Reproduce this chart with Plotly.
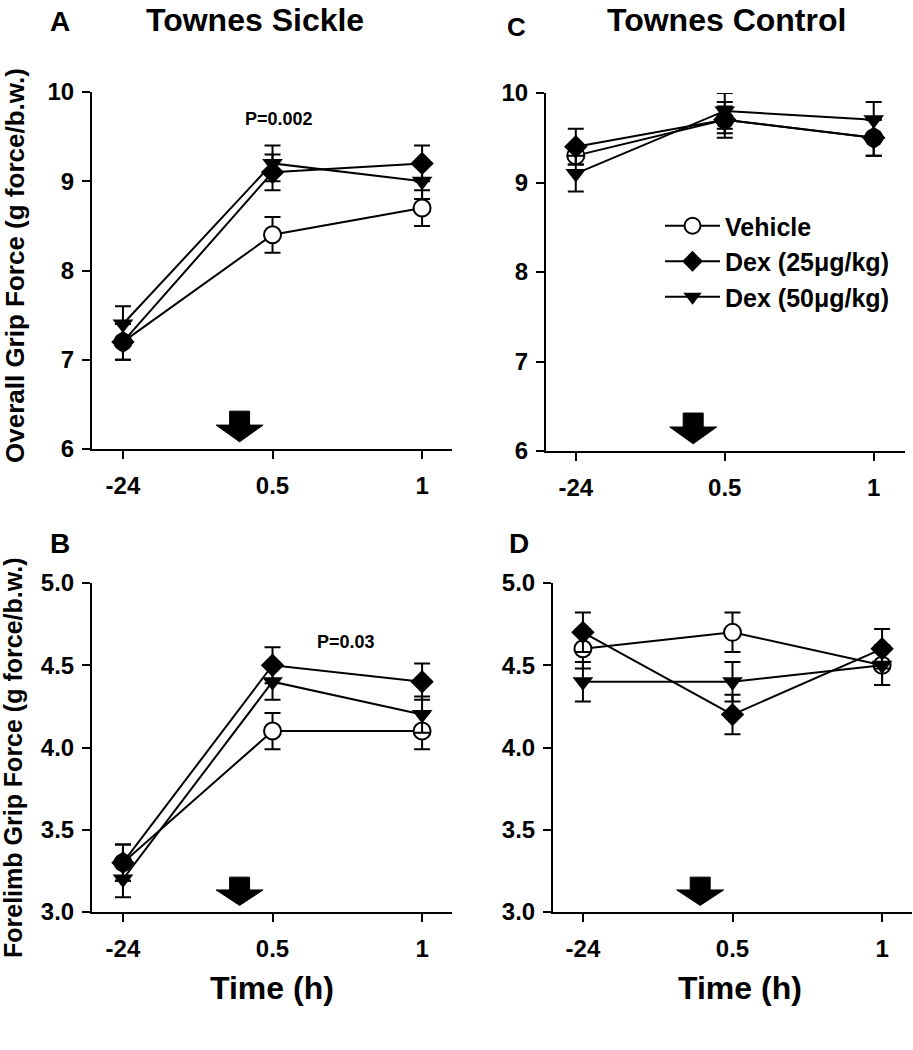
import plotly.graph_objects as go

W, H = 913, 1050

times = ["-24", "0.5", "1"]
series_names = ["Vehicle", "Dex (25\u03bcg/kg)", "Dex (50\u03bcg/kg)"]

# Panel A: Townes Sickle, overall grip force
A_vehicle = [7.2, 8.4, 8.7]
A_vehicle_err = [0.2, 0.2, 0.2]
A_dex25 = [7.2, 9.1, 9.2]
A_dex25_err = [0.2, 0.2, 0.2]
A_dex50 = [7.4, 9.2, 9.0]
A_dex50_err = [0.2, 0.2, 0.2]

# Panel C: Townes Control, overall grip force
C_vehicle = [9.3, 9.7, 9.5]
C_vehicle_err = [0.1, 0.15, 0.2]
C_dex25 = [9.4, 9.7, 9.5]
C_dex25_err = [0.2, 0.2, 0.2]
C_dex50 = [9.1, 9.8, 9.7]
C_dex50_err = [0.2, 0.2, 0.2]

# Panel B: Townes Sickle, forelimb grip force
B_vehicle = [3.3, 4.1, 4.1]
B_vehicle_err = [0.11, 0.11, 0.11]
B_dex25 = [3.3, 4.5, 4.4]
B_dex25_err = [0.11, 0.11, 0.11]
B_dex50 = [3.2, 4.4, 4.2]
B_dex50_err = [0.11, 0.11, 0.11]

# Panel D: Townes Control, forelimb grip force
D_vehicle = [4.6, 4.7, 4.5]
D_vehicle_err = [0.12, 0.12, 0.12]
D_dex25 = [4.7, 4.2, 4.6]
D_dex25_err = [0.12, 0.12, 0.12]
D_dex50 = [4.4, 4.4, 4.5]
D_dex50_err = [0.12, 0.12, 0.12]

FONT = "Liberation Sans, Arial, sans-serif"


def px_x(p):
    return p / W


def px_y(p):
    return 1 - p / H


fig = go.Figure()

panels = [
    ("", (A_vehicle, A_vehicle_err, A_dex25, A_dex25_err, A_dex50, A_dex50_err), False),
    ("2", (C_vehicle, C_vehicle_err, C_dex25, C_dex25_err, C_dex50, C_dex50_err), True),
    ("3", (B_vehicle, B_vehicle_err, B_dex25, B_dex25_err, B_dex50, B_dex50_err), False),
    ("4", (D_vehicle, D_vehicle_err, D_dex25, D_dex25_err, D_dex50, D_dex50_err), False),
]


def err(e):
    return dict(type="data", array=e, visible=True, color="black", thickness=2, width=8)


for suf, (veh, veh_e, d25, d25_e, d50, d50_e), sl in panels:
    xa = "x" + suf
    ya = "y" + suf
    common = dict(x=times, mode="lines+markers", xaxis=xa, yaxis=ya,
                  line=dict(color="black", width=2))
    fig.add_trace(go.Scatter(y=veh, error_y=err(veh_e), name=series_names[0],
                             marker=dict(symbol="circle", size=17, color="white",
                                         line=dict(color="black", width=2)),
                             showlegend=sl, legendrank=1, **common))
    fig.add_trace(go.Scatter(y=d50, error_y=err(d50_e), name=series_names[2],
                             marker=dict(symbol="triangle-down", size=18, color="black",
                                         line=dict(color="black", width=0)),
                             showlegend=sl, legendrank=3, **common))
    fig.add_trace(go.Scatter(y=d25, error_y=err(d25_e), name=series_names[1],
                             marker=dict(symbol="diamond", size=18, color="black",
                                         line=dict(color="black", width=0)),
                             showlegend=sl, legendrank=2, **common))

axis_common = dict(showline=True, linecolor="black", linewidth=2, ticks="outside",
                   ticklen=8, tickwidth=2, tickcolor="black", showgrid=False,
                   zeroline=False, automargin=False,
                   tickfont=dict(size=24, family=FONT, color="black", weight="bold"))

dom = {
    "": ([92, 452], [449, 92], [-0.207, 2.2], [6, 10], [6, 7, 8, 9, 10]),
    "2": ([546, 905], [451, 93], [-0.2, 2.21], [6, 10], [6, 7, 8, 9, 10]),
    "3": ([92, 452], [912, 583], [-0.207, 2.2], [3, 5], [3.0, 3.5, 4.0, 4.5, 5.0]),
    "4": ([553, 912], [912, 583], [-0.2, 2.2], [3, 5], [3.0, 3.5, 4.0, 4.5, 5.0]),
}

layout_axes = {}
for suf, (xd, yd, xr, yr, tv) in dom.items():
    xk = "xaxis" + suf
    yk = "yaxis" + suf
    layout_axes[xk] = dict(domain=[px_x(xd[0]), px_x(xd[1])], type="category",
                           range=xr, anchor="y" + suf, ticklabelstandoff=6,
                           **axis_common)
    fmt = ".1f" if yr[1] == 5 else "d"
    layout_axes[yk] = dict(domain=[px_y(yd[0]), px_y(yd[1])], range=yr,
                           anchor="x" + suf, tickvals=tv, tickformat=fmt,
                           ticklabelstandoff=3, **axis_common)

fig.update_layout(template="none")
fig.update_layout(**layout_axes)

# Dosing arrows (decorations), drawn in paper coordinates relative to each panel
shapes = []
for suf, (xd, yd, xr, yr, tv) in dom.items():
    x0, x1 = xd
    ybot, ytop = yd
    cx = x0 + 0.41 * (x1 - x0)
    hgt = ybot - ytop
    y_top = ybot - 0.106 * hgt
    y_head = ybot - 0.067 * hgt
    y_tip = ybot - 0.02 * hgt
    sw, hw = 10, 23.5
    pts = [(cx - sw, y_top), (cx + sw, y_top), (cx + sw, y_head), (cx + hw, y_head),
           (cx, y_tip), (cx - hw, y_head), (cx - sw, y_head)]
    path = "M " + " L ".join(f"{px_x(a):.5f},{px_y(b):.5f}" for a, b in pts) + " Z"
    shapes.append(dict(type="path", xref="paper", yref="paper", path=path,
                       fillcolor="black", line=dict(color="black", width=1)))

fig.update_layout(shapes=shapes)

ann = []


def text(xp, yp, s, size, angle=0, xa="center", ya="middle"):
    ann.append(dict(x=px_x(xp), y=px_y(yp), xref="paper", yref="paper", text=s,
                    showarrow=False, textangle=angle, xanchor=xa, yanchor=ya,
                    font=dict(size=size, family=FONT, color="black", weight="bold")))


text(255, 0, "Townes Sickle", 32, ya="top")
text(726, 0, "Townes Control", 32, ya="top")
text(60, 21, "A", 28)
text(516, 27, "C", 26)
text(60, 543, "B", 28)
text(519, 543, "D", 28)
text(15, 266, "Overall Grip Force (g force/b.w.)", 26, angle=-90)
text(13, 758, "Forelimb Grip Force (g force/b.w.)", 25, angle=-90)
text(272, 988, "Time (h)", 32)
text(740, 988, "Time (h)", 32)

# P-value annotations placed in data coordinates
ann.append(dict(x=1.04, y=9.7, xref="x", yref="y", text="P=0.002", showarrow=False,
                font=dict(size=18, family=FONT, color="black", weight="bold")))
ann.append(dict(x=1.49, y=4.64, xref="x3", yref="y3", text="P=0.03", showarrow=False,
                font=dict(size=18, family=FONT, color="black", weight="bold")))

fig.update_layout(annotations=ann)

fig.update_layout(
    width=W, height=H, autosize=False,
    margin=dict(l=0, r=0, t=0, b=0, pad=0, autoexpand=False),
    paper_bgcolor="white", plot_bgcolor="white",
    font=dict(family=FONT, color="black", size=24, weight="bold"),
    showlegend=True,
    legend=dict(x=px_x(660), y=px_y(203), xanchor="left", yanchor="top",
                bgcolor="rgba(0,0,0,0)", borderwidth=0,
                font=dict(size=25, family=FONT, color="black", weight="bold"),
                itemwidth=55, tracegroupgap=0),
)

fig.write_html(
    "out.html",
    config={"displayModeBar": False},
    post_script="document.body.style.margin='0';document.body.style.overflow='hidden';",
)
